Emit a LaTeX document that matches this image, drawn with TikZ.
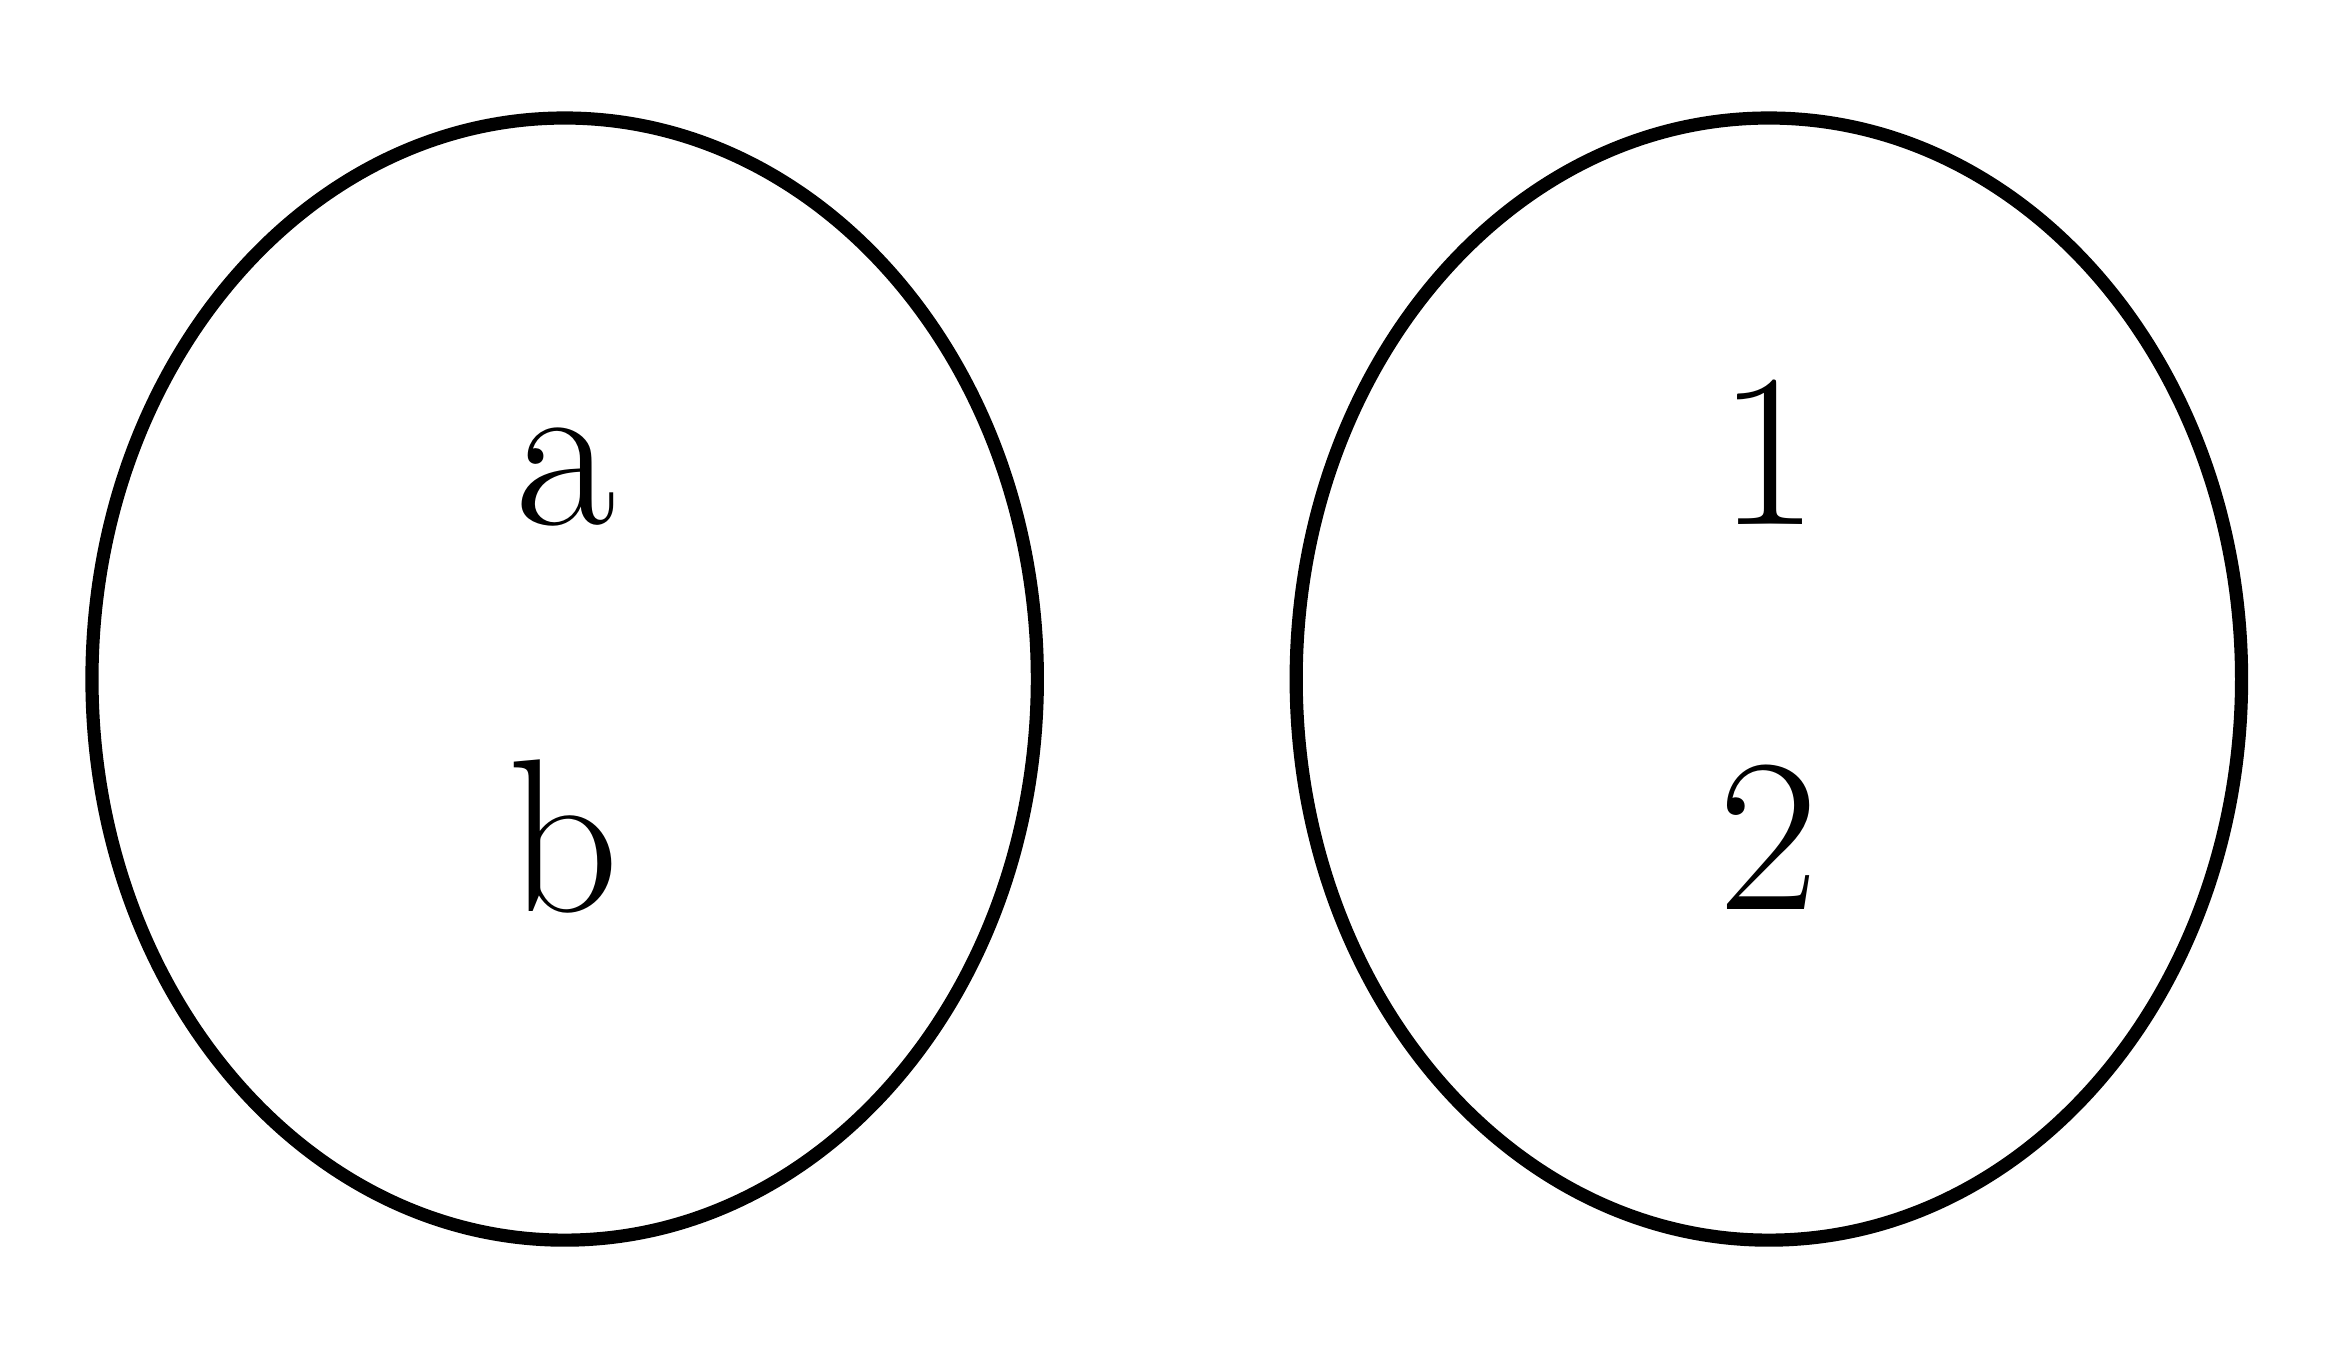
\documentclass[tikz,border=0pt]{standalone}
\usetikzlibrary{shapes.geometric}
\begin{document}
\begin{tikzpicture}[x=1pt,y=1pt,
  setshape/.style={draw=black,line width=4.4pt,ellipse,minimum width=315.6pt,minimum height=374.6pt,inner sep=0pt},
  elem/.style={anchor=base,inner sep=0pt,font=\fontsize{73}{74}\selectfont}]
\useasboundingbox (0,0) rectangle (783.5,457.7);
\node[setshape] (A) at (188.5,231) {};
\node[setshape] (B) at (590.5,231) {};
\node[elem] (a) at (189,282.5) {a};
\node[elem] (b) at (188,153.5) {b};
\node[elem] (one) at (590.5,282.5) {1};
\node[elem] (two) at (590.5,154) {2};
\end{tikzpicture}
\end{document}
